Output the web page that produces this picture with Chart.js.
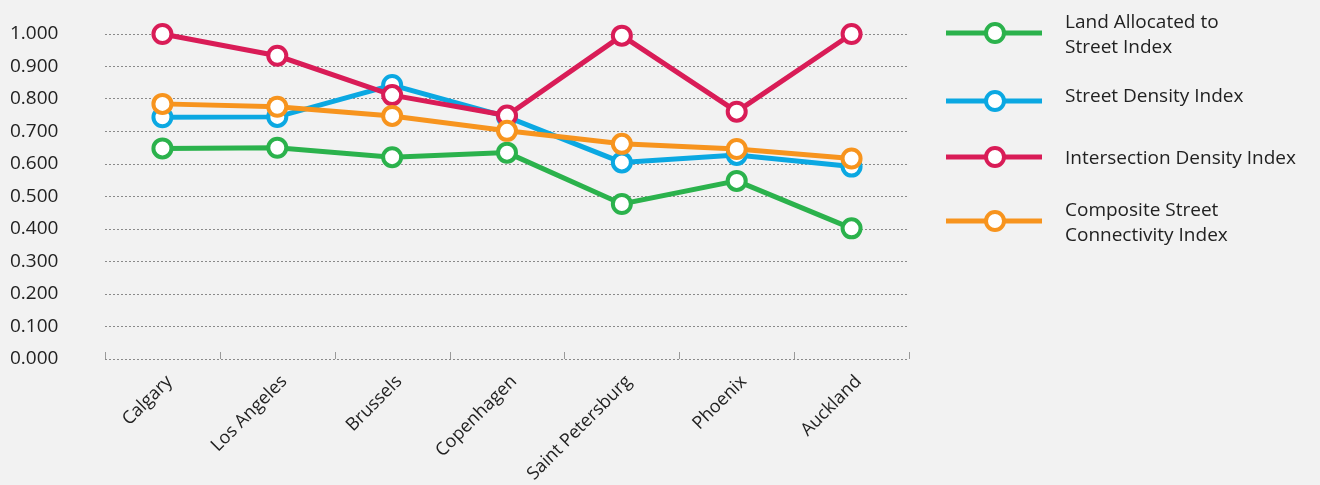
<!DOCTYPE html>
<html lang="en">
<head>
    <meta charset="UTF-8">
    <title>Street Connectivity Indices</title>
    <style>
        body { margin: 0; background: #f2f2f2; }
        #chart { display: block; }
    </style>
</head>
<body>
    <canvas id="chart" width="1320" height="485"></canvas>
    <script src="https://cdn.jsdelivr.net/npm/chart.js"></script>
    <script>
        const categories = ['Calgary', 'Los Angeles', 'Brussels', 'Copenhagen', 'Saint Petersburg', 'Phoenix', 'Auckland'];
        const landAllocated = [0.648, 0.650, 0.621, 0.635, 0.477, 0.548, 0.402];
        const streetDensity = [0.744, 0.745, 0.843, 0.745, 0.605, 0.628, 0.592];
        const intersectionDensity = [1.000, 0.933, 0.812, 0.749, 0.995, 0.761, 1.000];
        const compositeConnectivity = [0.785, 0.776, 0.748, 0.702, 0.662, 0.646, 0.617];
        const seriesLabels = [
            ['Land Allocated to', 'Street Index'],
            ['Street Density Index'],
            ['Intersection Density Index'],
            ['Composite Street', 'Connectivity Index']
        ];
        const yTicks = [0, 0.1, 0.2, 0.3, 0.4, 0.5, 0.6, 0.7, 0.8, 0.9, 1.0];

        const FONT = '"Open Sans", Lato, sans-serif';
        const colors = ['#2bb24c', '#0ba8e2', '#d91c57', '#f7941e'];

        function series(data, i, order) {
            return {
                label: seriesLabels[i].join(' '),
                data: data,
                borderColor: colors[i],
                borderWidth: 5,
                pointRadius: 9,
                pointBorderWidth: 4,
                pointBackgroundColor: '#ffffff',
                pointBorderColor: colors[i],
                tension: 0,
                clip: false,
                order: order
            };
        }

        // small tick marks on the baseline between categories
        const baseTicks = {
            id: 'baseTicks',
            beforeDatasetsDraw(chart) {
                const x = chart.scales.x, y = chart.scales.y;
                const ctx = chart.ctx;
                const base = y.getPixelForValue(0);
                ctx.save();
                ctx.strokeStyle = '#9a9a9a';
                ctx.lineWidth = 1;
                for (let i = 0; i <= categories.length; i++) {
                    const px = Math.round(x.getPixelForValue(i - 0.5)) + 0.5;
                    ctx.beginPath();
                    ctx.moveTo(px, base);
                    ctx.lineTo(px, base - 7);
                    ctx.stroke();
                }
                ctx.restore();
            }
        };

        // legend on the right: long line with a marker in the middle
        const sideLegend = {
            id: 'sideLegend',
            afterDraw(chart) {
                const ctx = chart.ctx;
                const markerY = [33, 101, 157, 221];
                const baselines = [[28, 53], [102], [164], [216, 241]];
                ctx.save();
                ctx.font = '19px ' + FONT;
                ctx.textBaseline = 'alphabetic';
                chart.data.datasets.forEach((ds, i) => {
                    const cy = markerY[i];
                    ctx.strokeStyle = ds.borderColor;
                    ctx.lineWidth = 5;
                    ctx.beginPath();
                    ctx.moveTo(946, cy);
                    ctx.lineTo(1042, cy);
                    ctx.stroke();
                    ctx.beginPath();
                    ctx.arc(995, cy, 9, 0, Math.PI * 2);
                    ctx.fillStyle = '#ffffff';
                    ctx.fill();
                    ctx.lineWidth = 4;
                    ctx.stroke();
                    ctx.fillStyle = '#222222';
                    seriesLabels[i].forEach((t, k) => ctx.fillText(t, 1065, baselines[i][k]));
                });
                ctx.restore();
            }
        };

        new Chart(document.getElementById('chart'), {
            type: 'line',
            data: {
                labels: categories,
                datasets: [
                    series(landAllocated, 0, 3),
                    series(streetDensity, 1, 2),
                    series(intersectionDensity, 2, 1),
                    series(compositeConnectivity, 3, 0)
                ]
            },
            options: {
                responsive: false,
                animation: false,
                layout: { padding: { top: 34, left: 10, right: 411, bottom: 0 } },
                plugins: {
                    legend: { display: false },
                    tooltip: { enabled: false }
                },
                scales: {
                    x: {
                        offset: true,
                        grid: { display: false },
                        border: { display: false },
                        ticks: {
                            color: '#222222',
                            font: { family: FONT, size: 18 },
                            minRotation: 45,
                            maxRotation: 45,
                            labelOffset: 7,
                            padding: 4
                        },
                        afterFit(scale) { scale.height = 126; }
                    },
                    y: {
                        min: 0,
                        max: 1,
                        grid: {
                            color: '#8a8a8a',
                            lineWidth: 1,
                            drawTicks: false
                        },
                        border: { display: false, dash: [2, 2] },
                        afterBuildTicks(scale) {
                            scale.ticks = yTicks.map(v => ({ value: v }));
                        },
                        ticks: {
                            color: '#222222',
                            font: { family: FONT, size: 19 },
                            crossAlign: 'far',
                            padding: 0,
                            callback: v => Number(v).toFixed(3)
                        },
                        afterFit(scale) { scale.width = 95; }
                    }
                }
            },
            plugins: [baseTicks, sideLegend]
        });
    </script>
</body>
</html>
